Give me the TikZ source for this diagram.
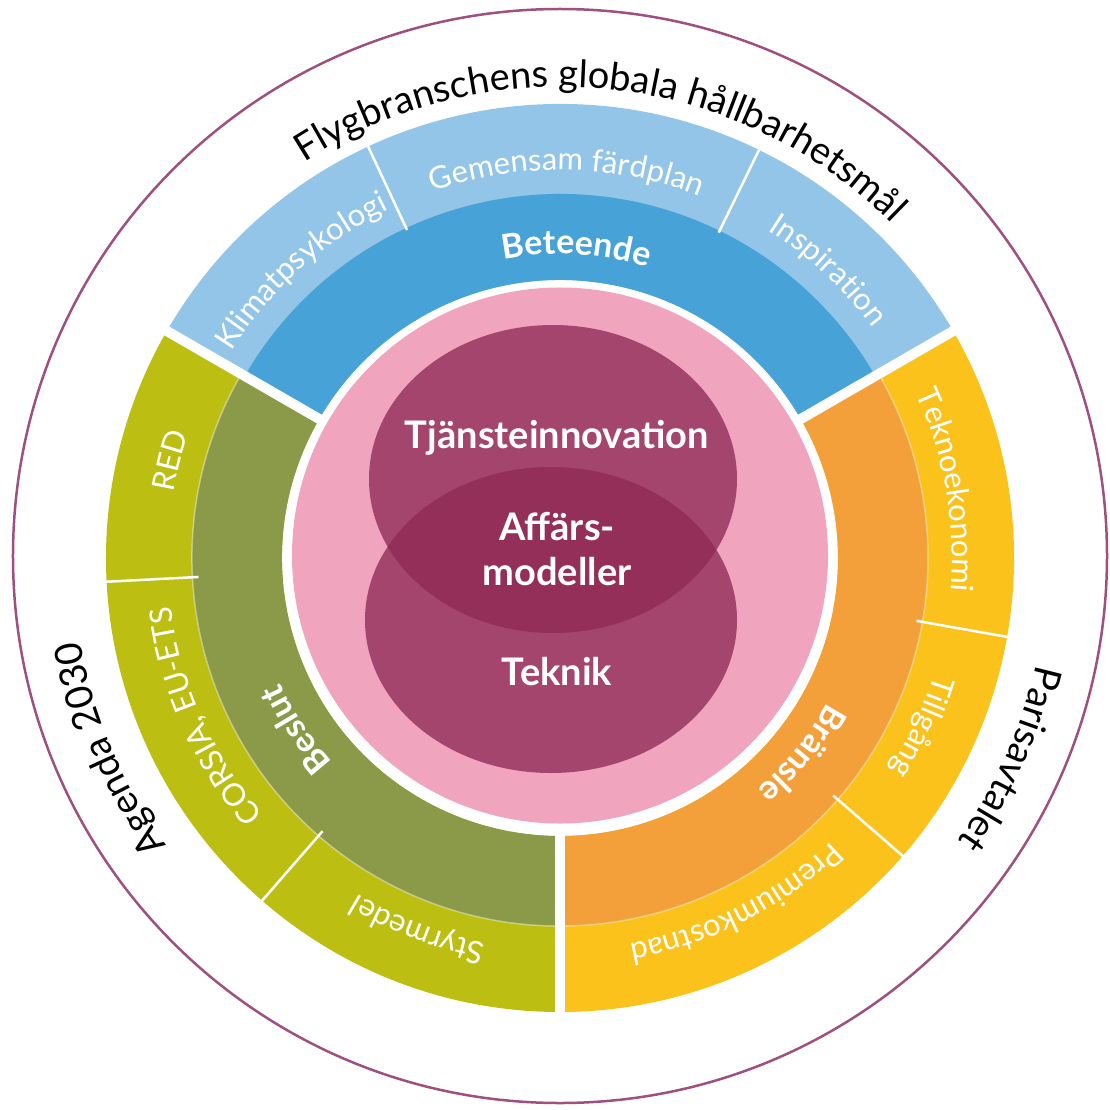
\documentclass[tikz,border=0pt]{standalone}
\usepackage{fontspec}
\setmainfont{Lato}
\usetikzlibrary{decorations.text}

\definecolor{skyblue}{HTML}{92C5E8}
\definecolor{beteendeblue}{HTML}{46A2D7}
\definecolor{limegreen}{HTML}{BDBE12}
\definecolor{beslutgreen}{HTML}{8A9A48}
\definecolor{fuelorange}{HTML}{F4A03A}
\definecolor{fuelyellow}{HTML}{FAC21B}
\definecolor{softpink}{HTML}{F0A4BE}
\definecolor{plum}{HTML}{A3456C}
\definecolor{deepplum}{HTML}{932F58}
\definecolor{rimplum}{HTML}{9E5080}

\newcommand{\bandpart}[5]{%
  \fill[#1] (#2:#4) arc[start angle=#2, end angle=#3, radius=#4]
    -- (#3:#5) arc[start angle=#3, end angle=#2, radius=#5] -- cycle;}
\newcommand{\ringlabel}[5]{%
  \path[decorate, decoration={text along path, text align=center, text={|#1|#5}}]
    ({#2+#3}:#4) arc[start angle={#2+#3}, end angle={#2-#3}, radius=#4];}
\newcommand{\bandfont}{\fontsize{31}{33}\selectfont\color{white}}
\newcommand{\beltfont}{\fontsize{34}{36}\selectfont\bfseries\color{white}}
\newcommand{\rimfont}{\fontsize{38}{40}\selectfont\color{black}}

\tikzset{
  divider/.style={white, line width=2.5},
  gap/.style={white, line width=10},
  core/.style={text=white, font=\fontsize{38}{40}\selectfont\bfseries, anchor=base},
}

\begin{document}
\begin{tikzpicture}[x=1pt, y=1pt]
  \useasboundingbox (-560,-551) rectangle (550,558);

  \draw[rimplum, line width=2.5] (0,2) circle[radius=547];

  % Beteende
  \bandpart{skyblue}{30}{150}{278}{454}
  \bandpart{beteendeblue}{30}{150}{278}{364}
  % Beslut
  \bandpart{limegreen}{150}{270}{278}{454}
  \bandpart{beslutgreen}{150}{270}{278}{368}
  % Bränsle
  \bandpart{fuelyellow}{-90}{30}{278}{454}
  \bandpart{fuelorange}{-90}{30}{278}{368}

  \draw[white, opacity=.4, line width=1.5] (150:368) arc[start angle=150, end angle=390, radius=368];

  \foreach \a in {64,115,183,229,-41,-10}
    \draw[divider] (\a:362) -- (\a:458);
  \foreach \a in {30,150,270}
    \draw[gap] (\a:260) -- (\a:460);

  \fill[softpink] (0,2.5) circle[radius=268];

  \fill[plum] (-7,79) ellipse[x radius=184, y radius=154];
  \fill[plum] (-9,-62) ellipse[x radius=186, y radius=153];
  \begin{scope}
    \clip (-7,79) ellipse[x radius=184, y radius=154];
    \fill[deepplum] (-9,-62) ellipse[x radius=186, y radius=153];
  \end{scope}

  \node[core] (tjanst) at (-3,110) {Tjänsteinnovation};
  \node[core] (affars) at (-3,18) {Affärs-};
  \node[core] (modeller) at (-3,-27) {modeller};
  \node[core] (teknik) at (-3,-127) {Teknik};

  \ringlabel{\rimfont}{84}{60}{471}{Flygbranschens globala hållbarhetsmål}
  \ringlabel{\rimfont}{203}{40}{487}{Agenda 2030}
  \ringlabel{\rimfont}{-24}{40}{488}{Parisavtalet}

  \ringlabel{\bandfont}{132}{30}{388}{Klimatpsykologi}
  \ringlabel{\bandfont}{89}{40}{388}{Gemensam färdplan}
  \ringlabel{\bandfont}{47}{30}{388}{Inspiration}
  \ringlabel{\bandfont}{166}{25}{392}{RED}
  \ringlabel{\bandfont}{204}{35}{392}{CORSIA, EU-ETS}
  \ringlabel{\bandfont}{249}{30}{392}{Styrmedel}
  \ringlabel{\bandfont}{10}{30}{392}{Teknoekonomi}
  \ringlabel{\bandfont}{-25}{25}{392}{Tillgång}
  \ringlabel{\bandfont}{-63}{35}{392}{Premiumkostnad}

  \ringlabel{\beltfont}{87}{30}{304}{Beteende}
  \ringlabel{\beltfont}{213}{30}{306}{Beslut}
  \ringlabel{\beltfont}{-39}{30}{304}{Bränsle}
\end{tikzpicture}
\end{document}
